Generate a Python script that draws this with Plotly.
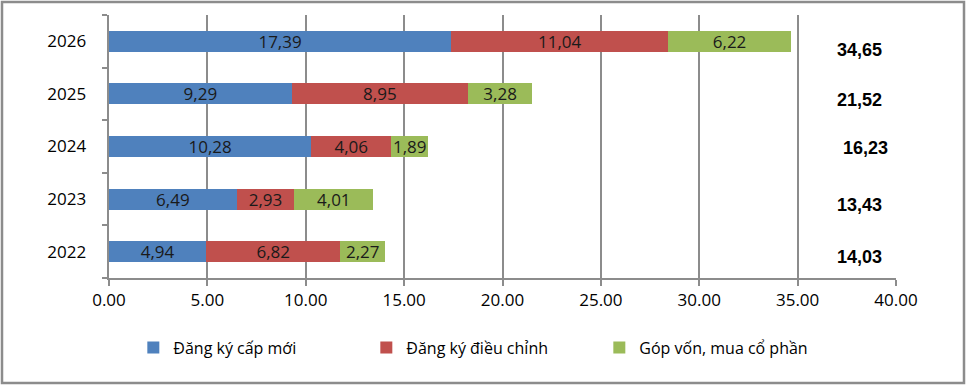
import plotly.graph_objects as go

years = ["2022", "2023", "2024", "2025", "2026"]
cap_moi = [4.94, 6.49, 10.28, 9.29, 17.39]
dieu_chinh = [6.82, 2.93, 4.06, 8.95, 11.04]
gop_von = [2.27, 4.01, 1.89, 3.28, 6.22]
series_names = ["Đăng ký cấp mới", "Đăng ký điều chỉnh", "Góp vốn, mua cổ phần"]
colors = ["#4F81BD", "#C0504D", "#9BBB59"]
x_ticks = [0, 5, 10, 15, 20, 25, 30, 35, 40]

def vn(v):
    return f"{v:.2f}".replace(".", ",")

totals = [round(a + b + c, 2) for a, b, c in zip(cap_moi, dieu_chinh, gop_von)]

FONT = "Open Sans, Noto Sans, sans-serif"
fig = go.Figure()
for name, vals, col in zip(series_names, [cap_moi, dieu_chinh, gop_von], colors):
    fig.add_trace(go.Bar(
        y=years, x=vals, name=name, orientation="h",
        marker=dict(color=col, line=dict(width=0)),
        text=[vn(v) for v in vals], textposition="inside",
        insidetextanchor="middle", textangle=0,
        textfont=dict(family=FONT, size=17, color="#1a1a1a"),
        width=0.4,
    ))

# total annotations (category index positions)
yshifts = [-5, -6, -1, -6, -9]
xshift = [0, 0, 6, 0, 0]
for i, (t, ys, xs) in enumerate(zip(totals, yshifts, xshift)):
    fig.add_annotation(x=38.15, y=i, text=f"<b>{vn(t)}</b>", showarrow=False,
                       xanchor="center", yshift=ys, xshift=xs,
                       font=dict(family="Liberation Sans, Arial, sans-serif", size=18, color="#000"))

# outer border
fig.add_shape(type="rect", xref="paper", yref="paper",
              x0=-107/787, x1=(964-109)/787, y0=-105/263, y1=1 + 13/263,
              line=dict(color="#8c8c8c", width=2.5), fillcolor="rgba(0,0,0,0)", layer="below")

fig.update_layout(
    barmode="stack",
    width=966, height=385,
    margin=dict(l=109, r=70, t=15, b=107, autoexpand=False),
    plot_bgcolor="white", paper_bgcolor="white",
    uniformtext=dict(minsize=17, mode="show"),
    xaxis=dict(range=[0, 40], tickvals=x_ticks, ticktext=[f"{v:.2f}" for v in x_ticks],
               showgrid=True, gridcolor="#8c8c8c", gridwidth=1.5,
               showline=True, linecolor="#8c8c8c", linewidth=1.5,
               ticks="outside", ticklen=6, tickcolor="#8c8c8c", tickwidth=1.5,
               tickfont=dict(family=FONT, size=17, color="#000"), zeroline=False,
               fixedrange=True),
    yaxis=dict(type="category", range=[-0.5, 4.5], showline=True, linecolor="#8c8c8c", linewidth=1.5,
               ticks="outside", ticklen=5, tickcolor="#8c8c8c", tickwidth=1.5,
               tickson="boundaries",
               tickfont=dict(family=FONT, size=17, color="#000"), ticksuffix="    ",
               showgrid=False),
    legend=dict(orientation="h", x=0.475, xanchor="center", y=-0.2, yanchor="top",
                bgcolor="rgba(0,0,0,0)",
                font=dict(family=FONT, size=16, color="#000"), itemwidth=30,
                traceorder="normal", entrywidth=188),
    showlegend=True,
)

fig.write_html("out.html")
